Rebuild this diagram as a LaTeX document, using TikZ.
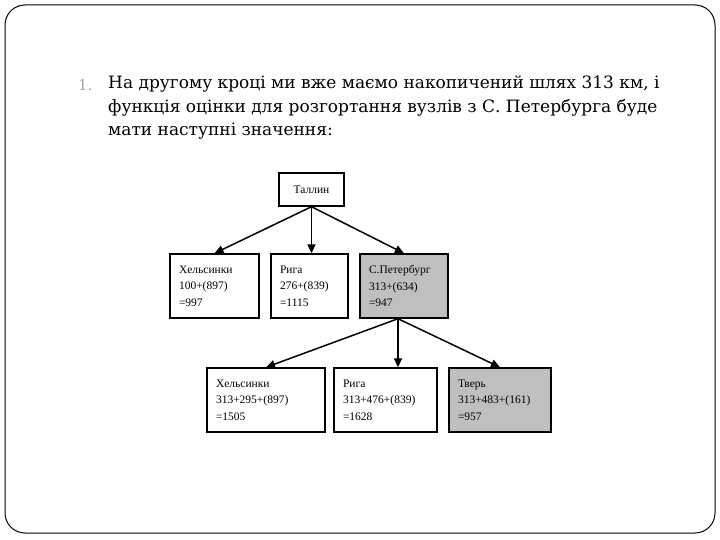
\documentclass[tikz,border=0pt]{standalone}
\usepackage{fontspec}
\setmainfont{Liberation Serif}
\newfontfamily\slidefont{DejaVu Serif}
\usepackage{tikz}
\usetikzlibrary{arrows.meta,positioning,calc}

\tikzset{
  cell/.style={draw, line width=1.4pt, minimum height=64pt, align=left,
    inner xsep=9pt, inner ysep=0pt, text width=#1,
    font=\fontsize{11.5}{16.5}\selectfont},
  picked/.style={fill=black!25},
  link/.style={line width=1.5pt, -{Triangle[length=9pt,width=8pt]}},
}

\begin{document}
\begin{tikzpicture}[x=1pt,y=-1pt]
  \useasboundingbox (0,0) rectangle (720,540);
  % slide frame
  \draw[line width=1pt, rounded corners=20pt] (5,5) rectangle (715,533);

  % text
  \node[text=black!35, font=\slidefont\fontsize{15}{23.5}\selectfont, anchor=base west, inner sep=0pt]
    (num) at (78,91) {1.};
  \node[font=\slidefont\fontsize{17}{23.5}\selectfont, anchor=north west, inner sep=0pt, align=left]
    (txt) at (108,76) {На другому кроці ми вже маємо накопичений шлях 313 км, і\\
      функція оцінки для розгортання вузлів з С. Петербурга буде\\
      мати наступні значення:};

  % tree
  \node[draw, line width=1.4pt, minimum width=65pt, minimum height=33pt,
    font=\fontsize{11.5}{16}\selectfont] (tallin) at (311.5,189.5) {Таллин};

  \node[cell=71pt] (hel1) at (214.5,286) {Хельсинки\\100+(897)\\=997};
  \node[cell=59pt] (riga1) at (309.5,286) {Рига\\276+(839)\\=1115};
  \node[cell=70pt, picked] (spb1) at (404,286) {С.Петербург\\313+(634)\\=947};

  \node[cell=100pt] (hel2) at (266,400) {Хельсинки\\313+295+(897)\\=1505};
  \node[cell=85pt] (riga2) at (385.5,400) {Рига\\313+476+(839)\\=1628};
  \node[cell=84pt, picked] (tver) at (500,400) {Тверь\\313+483+(161)\\=957};

  \draw[link] (tallin.south) -- (hel1.north);
  \draw[link] (tallin.south) -- (riga1.north -| tallin.south);
  \draw[link] (tallin.south) -- (spb1.north);

  \coordinate (fork) at ($(spb1.south)+(-6,0)$);
  \draw[link] (fork) -- (hel2.north);
  \draw[link] (fork) -- (riga2.north -| fork);
  \draw[link] (fork) -- (tver.north);
\end{tikzpicture}
\end{document}
